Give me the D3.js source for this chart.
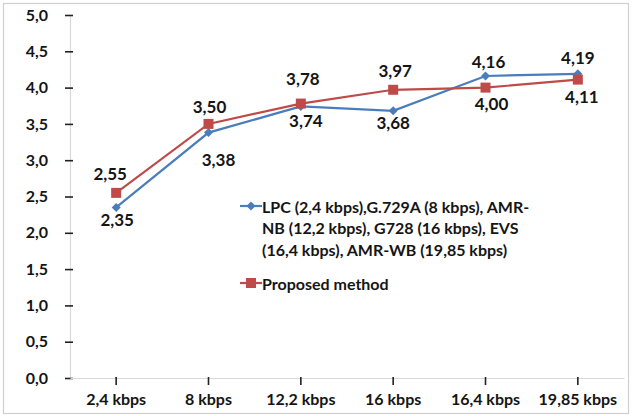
<!DOCTYPE html>
<html>
<head>
<meta charset="utf-8">
<script src="https://cdn.jsdelivr.net/npm/d3@7/dist/d3.min.js"></script>
<style>
  html, body { margin: 0; padding: 0; background: #fff; }
  svg { display: block; }
  text { font-family: Lato, "Open Sans", sans-serif; font-weight: bold; fill: #151515; }
</style>
</head>
<body>
<svg id="chart" width="635" height="416"></svg>
<script>
const categories = ["2,4 kbps", "8 kbps", "12,2 kbps", "16 kbps", "16,4 kbps", "19,85 kbps"];
const baselineValues = [2.35, 3.38, 3.74, 3.68, 4.16, 4.19];
const proposedValues = [2.55, 3.50, 3.78, 3.97, 4.00, 4.11];
const yTicks = [0, 0.5, 1, 1.5, 2, 2.5, 3, 3.5, 4, 4.5, 5];
const baselineName = ["LPC (2,4 kbps),G.729A (8 kbps), AMR-", "NB (12,2 kbps), G728 (16 kbps), EVS", "(16,4 kbps), AMR-WB (19,85 kbps)"];
const proposedName = "Proposed method";

// label placement (layout config, pixels)
const baselineLabelOffset = [[1, 12], [10, 27], [5, 14], [0, 12], [3, -14], [0, -16]];
const proposedLabelOffset = [[-6, -19], [1, -17], [2, -25], [2, -19], [6, 16], [4, 17]];

const blue = "#4a7ebb", red = "#be4b48";
const svg = d3.select("#chart");
const fmt = v => d3.format(".2f")(v).replace(".", ",");
const fmt1 = v => d3.format(".1f")(v).replace(".", ",");

svg.append("rect").attr("x", 3.5).attr("y", 3.5).attr("width", 625).attr("height", 410)
  .attr("fill", "#fff").attr("stroke", "#cfcfcf").attr("stroke-width", 1.2);

const x = d3.scaleBand().domain(categories).range([70, 624]).paddingInner(0).paddingOuter(0);
const cx = c => x(c) + x.bandwidth() / 2;
const y = d3.scaleLinear().domain([0, 5]).range([378, 15]);

// Y axis
const yAxis = svg.append("g").attr("transform", "translate(70,0)")
  .call(d3.axisLeft(y).tickValues(yTicks).tickFormat(fmt1).tickSizeInner(5).tickSizeOuter(0).tickPadding(17));
yAxis.select(".domain").attr("stroke", "#d9d9d9").attr("stroke-width", 1.2);
yAxis.selectAll(".tick line").attr("x1", -5).attr("x2", 3).attr("stroke", "#222").attr("stroke-width", 1.6);
yAxis.selectAll(".tick text").style("font-size", "16px").attr("fill", "#151515");

// X axis
const xAxis = svg.append("g").attr("transform", "translate(0,378)")
  .call(d3.axisBottom(x).tickSizeInner(7).tickSizeOuter(0).tickPadding(9));
xAxis.select(".domain").attr("stroke", "#d9d9d9").attr("stroke-width", 1.2);
xAxis.selectAll(".tick line").attr("y1", -1).attr("stroke", "#222").attr("stroke-width", 1.6);
xAxis.selectAll(".tick text").style("font-size", "16px").attr("fill", "#151515");

const line = d3.line().x((d, i) => cx(categories[i])).y(d => y(d));

svg.append("path").datum(baselineValues).attr("d", line)
  .attr("fill", "none").attr("stroke", blue).attr("stroke-width", 2.2);
svg.append("path").datum(proposedValues).attr("d", line)
  .attr("fill", "none").attr("stroke", red).attr("stroke-width", 2.2);

const diamond = s => `M0,${-s}L${s},0L0,${s}L${-s},0Z`;

svg.append("g").selectAll("path").data(baselineValues).join("path")
  .attr("d", diamond(4.5))
  .attr("transform", (d, i) => `translate(${cx(categories[i])},${y(d)})`)
  .attr("fill", blue);

svg.append("g").selectAll("rect").data(proposedValues).join("rect")
  .attr("x", (d, i) => cx(categories[i]) - 5).attr("y", d => y(d) - 5)
  .attr("width", 10).attr("height", 10).attr("fill", red);

// data labels
svg.append("g").selectAll("text").data(baselineValues).join("text")
  .attr("x", (d, i) => cx(categories[i]) + baselineLabelOffset[i][0])
  .attr("y", (d, i) => y(d) + baselineLabelOffset[i][1])
  .attr("text-anchor", "middle").attr("dominant-baseline", "central")
  .style("font-size", "17px").text(fmt);
svg.append("g").selectAll("text").data(proposedValues).join("text")
  .attr("x", (d, i) => cx(categories[i]) + proposedLabelOffset[i][0])
  .attr("y", (d, i) => y(d) + proposedLabelOffset[i][1])
  .attr("text-anchor", "middle").attr("dominant-baseline", "central")
  .style("font-size", "17px").text(fmt);

// legend
const lg = svg.append("g").attr("transform", "translate(240,206)");
lg.append("line").attr("x1", 0).attr("x2", 22).attr("y1", 0).attr("y2", 0).attr("stroke", blue).attr("stroke-width", 2.2);
lg.append("path").attr("d", diamond(4.5)).attr("transform", "translate(11,0)").attr("fill", blue);
lg.append("g").selectAll("text").data(baselineName).join("text")
  .attr("x", 22).attr("y", (d, i) => i * 21.5).attr("dominant-baseline", "central")
  .style("font-size", "16px").text(d => d);
lg.append("line").attr("x1", 0).attr("x2", 22).attr("y1", 77).attr("y2", 77).attr("stroke", red).attr("stroke-width", 2.2);
lg.append("rect").attr("x", 6).attr("y", 72).attr("width", 10).attr("height", 10).attr("fill", red);
lg.append("text").attr("x", 22).attr("y", 77).attr("dominant-baseline", "central")
  .style("font-size", "16px").text(proposedName);
</script>
</body>
</html>
